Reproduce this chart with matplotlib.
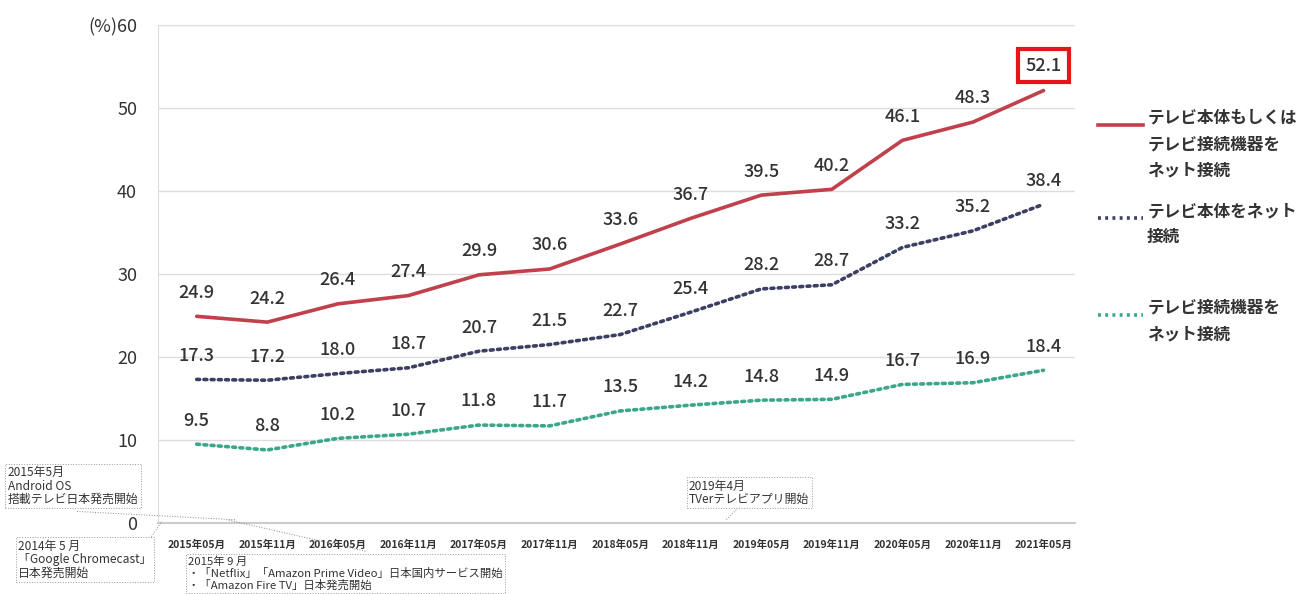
import numpy as np
import matplotlib.pyplot as plt
from matplotlib.lines import Line2D

plt.rcParams['font.family'] = ['Noto Sans CJK JP', 'DejaVu Sans']

#%% データ
periods = ['2015年05月', '2015年11月', '2016年05月', '2016年11月', '2017年05月',
           '2017年11月', '2018年05月', '2018年11月', '2019年05月', '2019年11月',
           '2020年05月', '2020年11月', '2021年05月']
tv_or_device = [24.9, 24.2, 26.4, 27.4, 29.9, 30.6, 33.6, 36.7, 39.5, 40.2, 46.1, 48.3, 52.1]
tv_only = [17.3, 17.2, 18.0, 18.7, 20.7, 21.5, 22.7, 25.4, 28.2, 28.7, 33.2, 35.2, 38.4]
device_only = [9.5, 8.8, 10.2, 10.7, 11.8, 11.7, 13.5, 14.2, 14.8, 14.9, 16.7, 16.9, 18.4]

series_names = ['テレビ本体もしくは\nテレビ接続機器を\nネット接続',
                'テレビ本体をネット\n接続',
                'テレビ接続機器を\nネット接続']
yticks = [0, 10, 20, 30, 40, 50, 60]

red = '#c0404c'
navy = '#3b3f62'
green = '#3aa68a'
txt = '#333333'

#%% 図
fig = plt.figure(figsize=(13.05, 5.94), dpi=100)
ax = fig.add_axes([0.121, 0.1195, 0.703, 0.8385])

x = np.arange(len(periods))
ax.plot(x, tv_or_device, color=red, lw=2.6, solid_capstyle='round')
ax.plot(x, tv_only, color=navy, lw=2.6, linestyle=(0, (0.8, 1.2)), dash_capstyle='round')
ax.plot(x, device_only, color=green, lw=2.6, linestyle=(0, (0.8, 1.2)), dash_capstyle='round')

for vals in (tv_or_device, tv_only, device_only):
    for xi, v in zip(x, vals):
        if xi == len(x) - 1 and vals is tv_or_device:
            ax.annotate(f'{v:.1f}', (xi, v), xytext=(0, 18), textcoords='offset points',
                        ha='center', va='center', fontsize=13, color=txt, fontweight='medium',
                        bbox=dict(boxstyle='square,pad=0.4', fc='white', ec='#e8141c', lw=3))
        else:
            ax.annotate(f'{v:.1f}', (xi, v), xytext=(0, 17), textcoords='offset points',
                        ha='center', va='center', fontsize=13, color=txt, fontweight='medium')

ax.set_xlim(-0.55, 12.45)
ax.set_ylim(0, 60)
ax.set_yticks(yticks)
ax.set_yticklabels([str(t) if t != 60 else '(%)60' for t in yticks], fontsize=13, color=txt)
ax.set_xticks(x)
ax.set_xticklabels(periods, fontsize=7.5, color=txt, fontweight='bold')
ax.tick_params(length=0, pad=15)
ax.tick_params(axis='x', pad=12)
ax.grid(axis='y', color='#dddddd', lw=1)
ax.set_axisbelow(True)
for s in ['top', 'right']:
    ax.spines[s].set_visible(False)
ax.spines['left'].set_color('#dddddd')
ax.spines['bottom'].set_color('#cccccc')
ax.spines['bottom'].set_linewidth(1.5)

#%% 凡例 (手書き)
leg = [(0.841, 0.876, 0.79, red, '-'), (0.841, 0.876, 0.633, navy, ':'),
       (0.841, 0.876, 0.47, green, ':')]
for (x0, x1, yy, c, ls), name in zip(leg, series_names):
    fig.add_artist(Line2D([x0, x1], [yy, yy], color=c, lw=2.6,
                          linestyle='-' if ls == '-' else (0, (0.8, 1.2)),
                          transform=fig.transFigure))
    fig.text(0.879, yy + 0.027, name, fontsize=12, color=txt, fontweight='bold',
             va='top', ha='left', linespacing=1.6, transform=fig.transFigure)

#%% 注記ボックス
notes = [
    (0.006, 0.148, '2015年5月\nAndroid OS\n搭載テレビ日本発売開始', (0.059, 0.139), (0.18, 0.125), 8.6),
    (0.014, 0.024, '2014年 5 月\n「Google Chromecast」\n日本発売開始', (0.115, 0.093), (0.124, 0.122), 8.6),
    (0.144, 0.006, '2015年 9 月\n・「Netflix」「Amazon Prime Video」日本国内サービス開始\n・「Amazon Fire TV」日本発売開始', (0.28, 0.072), (0.174, 0.125), 8.2),
    (0.528, 0.148, '2019年4月\nTVerテレビアプリ開始', (0.567, 0.148), (0.556, 0.124), 8.6),
]
for nx, ny, ntext, p0, p1, fs in notes:
    fig.text(nx, ny, ntext, fontsize=fs, color=txt, ha='left', va='bottom', linespacing=1.05,
             bbox=dict(boxstyle='square,pad=0.2', fc='white', ec='#999999', lw=0.7, ls=':'))
    fig.add_artist(Line2D([p0[0], p1[0]], [p0[1], p1[1]], color='#888888', lw=0.7,
                          linestyle=':', transform=fig.transFigure))

fig.savefig('out.png', dpi=100)
